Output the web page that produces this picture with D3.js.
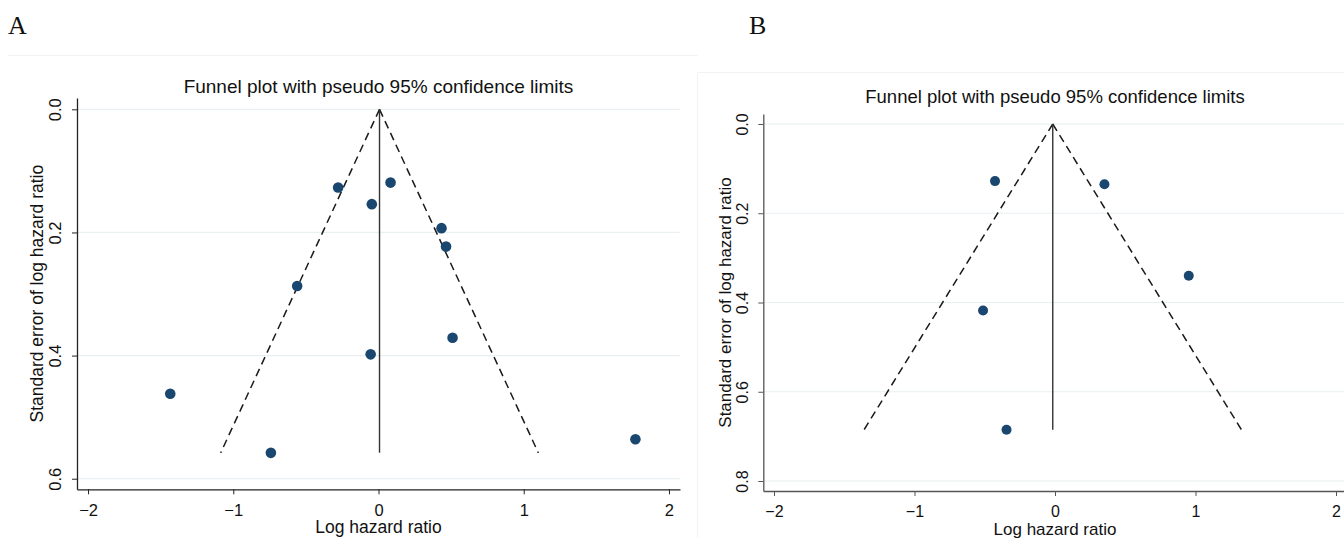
<!DOCTYPE html>
<html>
<head>
<meta charset="utf-8">
<script src="https://cdn.jsdelivr.net/npm/d3@7"></script>
<style>
  html, body { margin: 0; padding: 0; background: #fff; }
  svg { display: block; }
  text { font-family: "Liberation Sans", Arial, sans-serif; fill: #111; }
</style>
</head>
<body>
<div id="chart"></div>
<script>
// study data
const lnhrA = [-1.434, -0.741, -0.560, -0.278, -0.046, -0.054, 0.083, 0.434, 0.465, 0.510, 1.769];
const seA   = [0.462, 0.558, 0.287, 0.127, 0.154, 0.398, 0.119, 0.193, 0.223, 0.371, 0.536];
const pooledA = 0.007;

const lnhrB = [-0.427, 0.352, 0.952, -0.512, -0.345];
const seB   = [0.128, 0.135, 0.340, 0.418, 0.685];
const pooledB = -0.016;

const xTicks  = [-2, -1, 0, 1, 2];
const yTicksA = [0, 0.2, 0.4, 0.6];
const yTicksB = [0, 0.2, 0.4, 0.6, 0.8];

const titleText = "Funnel plot with pseudo 95% confidence limits";
const xTitle = "Log hazard ratio";
const yTitle = "Standard error of log hazard ratio";

const width = 1344, height = 538;
const navy = "#1a476f";

const svg = d3.select("#chart").append("svg")
  .attr("width", width)
  .attr("height", height);

// faint panel borders
svg.append("path")
  .attr("d", "M8,55.5 H697.5")
  .attr("fill", "none").attr("stroke", "#f2f2f2");
svg.append("path")
  .attr("d", "M697.5,545 V72.5 H1350")
  .attr("fill", "none").attr("stroke", "#f2f2f2");

svg.append("text").text("A")
  .attr("x", 8).attr("y", 34)
  .style("font-family", "Liberation Serif, Times New Roman, serif")
  .style("font-size", "26px");
svg.append("text").text("B")
  .attr("x", 749).attr("y", 34)
  .style("font-family", "Liberation Serif, Times New Roman, serif")
  .style("font-size", "26px");

function drawFunnel(cfg) {
  const g = svg.append("g");
  const x = d3.scaleLinear().domain(cfg.xDomain).range([cfg.left, cfg.right]);
  const y = d3.scaleLinear().domain(cfg.yDomain).range([cfg.top, cfg.bottom]);

  // grid
  g.append("g").selectAll("line")
    .data(cfg.yTicks)
    .join("line")
    .attr("x1", cfg.left).attr("x2", cfg.right)
    .attr("y1", d => y(d)).attr("y2", d => y(d))
    .attr("stroke", "#e9f0f2")
    .attr("stroke-width", 1.2);

  // y axis
  const yAxis = g.append("g")
    .attr("transform", `translate(${cfg.left},0)`)
    .call(d3.axisLeft(y).tickValues(cfg.yTicks).tickFormat(d3.format(".1f")).tickSizeInner(5).tickSizeOuter(0));
  yAxis.select(".domain").attr("stroke", cfg.axisColor).attr("stroke-width", 1.3);
  yAxis.selectAll(".tick line").attr("stroke", cfg.axisColor);
  yAxis.selectAll("text")
    .attr("x", null).attr("dy", null)
    .attr("text-anchor", "middle")
    .attr("transform", `translate(${-cfg.yLabelOff},0) rotate(-90)`)
    .style("font-family", "Liberation Sans, Arial, sans-serif")
    .style("font-size", cfg.tickFont + "px")
    .attr("fill", "#111");

  // x axis
  const xAxis = g.append("g")
    .attr("transform", `translate(0,${cfg.bottom})`)
    .call(d3.axisBottom(x).tickValues(xTicks).tickFormat(d3.format("d")).tickSizeInner(5).tickSizeOuter(0));
  xAxis.select(".domain").attr("stroke", cfg.axisColor).attr("stroke-width", 1.3);
  xAxis.selectAll(".tick line").attr("stroke", cfg.axisColor);
  xAxis.selectAll("text")
    .attr("y", cfg.xLabelOff).attr("dy", null)
    .style("font-family", "Liberation Sans, Arial, sans-serif")
    .style("font-size", cfg.tickFont + "px")
    .attr("fill", "#111");

  // titles
  g.append("text").text(titleText)
    .attr("x", (x(-2) + x(2)) / 2).attr("y", cfg.titleY)
    .attr("text-anchor", "middle")
    .style("font-size", cfg.titleFont + "px");
  g.append("text").text(xTitle)
    .attr("x", x(0)).attr("y", cfg.xTitleY)
    .attr("text-anchor", "middle")
    .style("font-size", cfg.axisFont + "px");
  g.append("text").text(yTitle)
    .attr("transform", `translate(${cfg.yTitleX},${(cfg.top + cfg.bottom) / 2}) rotate(-90)`)
    .attr("text-anchor", "middle")
    .style("font-size", cfg.axisFont + "px");

  // pseudo 95% limits
  const maxSe = d3.max(cfg.se);
  const funnel = [
    [[cfg.pooled, 0], [cfg.pooled - 1.96 * maxSe, maxSe]],
    [[cfg.pooled, 0], [cfg.pooled + 1.96 * maxSe, maxSe]]
  ];
  const line = d3.line().x(d => x(d[0])).y(d => y(d[1]));
  g.append("g").selectAll("path")
    .data(funnel)
    .join("path")
    .attr("d", line)
    .attr("fill", "none")
    .attr("stroke", "#1a1a1a")
    .attr("stroke-width", 1.5)
    .attr("stroke-dasharray", "8,5");
  g.append("path")
    .attr("d", line([[cfg.pooled, 0], [cfg.pooled, maxSe]]))
    .attr("stroke", "#333")
    .attr("stroke-width", 1.4);

  // studies
  g.append("g").selectAll("circle")
    .data(cfg.se.map((s, i) => ({ se: s, b: cfg.lnhr[i] })))
    .join("circle")
    .attr("cx", d => x(d.b))
    .attr("cy", d => y(d.se))
    .attr("r", cfg.r)
    .attr("fill", navy);
}

drawFunnel({
  lnhr: lnhrA, se: seA, pooled: pooledA, yTicks: yTicksA,
  left: 77, right: 680, top: 98, bottom: 489.3,
  xDomain: [-2.076, 2.076], yDomain: [-0.0184, 0.6172],
  axisColor: "#222", yLabelOff: 16, xLabelOff: 27,
  tickFont: 16.5, titleFont: 19, axisFont: 17.5,
  titleY: 93, xTitleY: 533, yTitleX: 43, r: 5.3
});

drawFunnel({
  lnhr: lnhrB, se: seB, pooled: pooledB, yTicks: yTicksB,
  left: 763.3, right: 1346.7, top: 114, bottom: 491,
  xDomain: [-2.0761, 2.0761], yDomain: [-0.0224, 0.8224],
  axisColor: "#555", yLabelOff: 15.5, xLabelOff: 26,
  tickFont: 16, titleFont: 18.5, axisFont: 17,
  titleY: 103, xTitleY: 535, yTitleX: 731, r: 5
});
</script>
</body>
</html>
